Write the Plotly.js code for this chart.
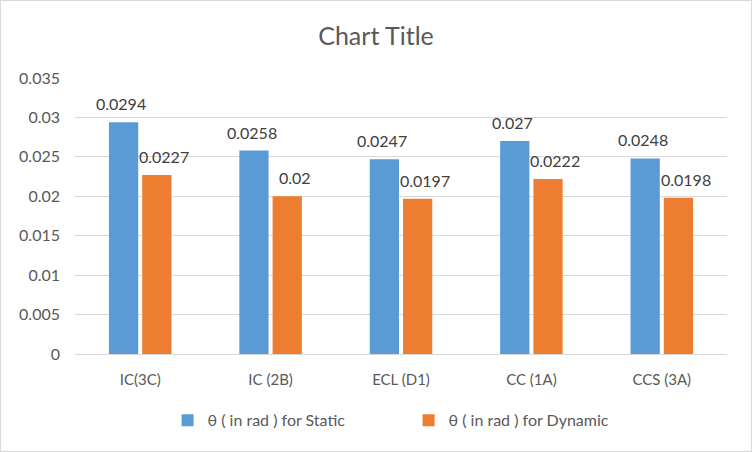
<!DOCTYPE html>
<html>
<head>
<meta charset="utf-8">
<script src="https://cdn.plot.ly/plotly-3.0.1.min.js"></script>
<style>
html,body{margin:0;padding:0;background:#fff;}
#wrap{width:752px;height:452px;box-sizing:border-box;border:1px solid #d9d9d9;overflow:hidden;}
#chart{width:750px;height:450px;}
</style>
</head>
<body>
<div id="wrap"><div id="chart"></div></div>
<script>
var categories = ["IC(3C)", "IC (2B)", "ECL (D1)", "CC (1A)", "CCS (3A)"];
var staticValues = [0.0294, 0.0258, 0.0247, 0.027, 0.0248];
var dynamicValues = [0.0227, 0.02, 0.0197, 0.0222, 0.0198];
var seriesNames = ["θ ( in rad ) for Static", "θ ( in rad ) for Dynamic"];
var yTicks = [0, 0.005, 0.01, 0.015, 0.02, 0.025, 0.03, 0.035];
var yTickText = ["0", "0.005", "0.01", "0.015", "0.02", "0.025", "0.03", "0.035"];

var fontFam = "Lato, 'Open Sans', sans-serif";
var labelFont = {family: fontFam, size: 16, color: "#404040"};

var traces = [
  {type: "bar", name: seriesNames[0], x: categories, y: staticValues,
   marker: {color: "#5b9bd5"}, hoverinfo: "none"},
  {type: "bar", name: seriesNames[1], x: categories, y: dynamicValues,
   marker: {color: "#ed7d31"}, hoverinfo: "none"}
];

var annotations = [];
categories.forEach(function (c, i) {
  annotations.push({x: c, y: staticValues[i], xref: "x", yref: "y", text: String(staticValues[i]),
    showarrow: false, yanchor: "bottom", xanchor: "center", xshift: -19, yshift: 7, font: labelFont});
  annotations.push({x: c, y: dynamicValues[i], xref: "x", yref: "y", text: String(dynamicValues[i]),
    showarrow: false, yanchor: "bottom", xanchor: "center", xshift: 24, yshift: 7, font: labelFont});
});

var layout = {
  width: 750, height: 450,
  margin: {l: 74, r: 24, t: 77, b: 97, pad: 0, autoexpand: false},
  paper_bgcolor: "#ffffff", plot_bgcolor: "#ffffff",
  font: {family: fontFam, color: "#595959", size: 16},
  title: {text: "Chart Title", font: {family: fontFam, size: 25, color: "#595959"}, x: 0.5, xanchor: "center", y: 0.922, yanchor: "middle"},
  barmode: "group", bargap: 0.49, bargroupgap: 0.12,
  showlegend: true,
  legend: {orientation: "h", x: 0.142, xanchor: "left", y: -0.24, yanchor: "middle",
           entrywidth: 196, entrywidthmode: "pixels",
           font: {family: fontFam, size: 16, color: "#595959"}, itemwidth: 30, traceorder: "normal"},
  annotations: annotations,
  xaxis: {type: "category", showgrid: false, showline: true, linecolor: "#d9d9d9", linewidth: 1,
          ticks: "", ticklabelstandoff: 12, tickfont: {family: fontFam, size: 15, color: "#595959"}, zeroline: false},
  yaxis: {range: [0, 0.035], tickvals: yTicks, ticktext: yTickText, showgrid: true, gridcolor: "#d9d9d9",
          gridwidth: 1, zeroline: false, showline: false, ticks: "", ticklabelstandoff: 14,
          tickfont: {family: fontFam, size: 16, color: "#595959"}}
};

Plotly.newPlot("chart", traces, layout, {displayModeBar: false, staticPlot: true});
</script>
</body>
</html>
